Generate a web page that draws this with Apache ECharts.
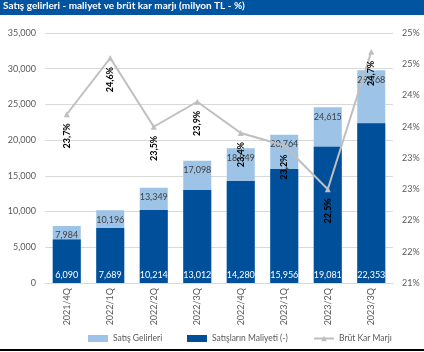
<!DOCTYPE html>
<html>
<head>
<meta charset="utf-8">
<script src="https://cdn.jsdelivr.net/npm/echarts@6/dist/echarts.min.js"></script>
<style>
  html, body { margin: 0; padding: 0; background: #fff; }
  #chart { width: 424px; height: 352px; }
</style>
</head>
<body>
<div id="chart"></div>
<script>
// Quarterly sales, cost of sales and gross margin
const quarters = ['2021/4Q', '2022/1Q', '2022/2Q', '2022/3Q', '2022/4Q', '2023/1Q', '2023/2Q', '2023/3Q'];
const salesRevenue = [7984, 10196, 13349, 17098, 18849, 20764, 24615, 29768];
const costOfSales = [6090, 7689, 10214, 13012, 14280, 15956, 19081, 22353];
const grossMargin = [23.7, 24.6, 23.5, 23.9, 23.4, 23.2, 22.5, 24.7];

const FONT = 'Lato';
const fmtThousands = v => v.toLocaleString('en-US');
const fmtPct = v => v.toFixed(1).replace('.', ',') + '%';

const legendText = { fontFamily: FONT, fontSize: 8.5, color: '#595959' };
const legendItem = (name, left, icon) => ({
  top: 329, left: left, itemWidth: 20, itemHeight: 7, itemGap: 0,
  textStyle: legendText,
  data: [icon ? { name: name, icon: icon } : { name: name }]
});

const chart = echarts.init(document.getElementById('chart'), null, { renderer: 'canvas' });

chart.setOption({
  animation: false,
  backgroundColor: '#ffffff',
  textStyle: { fontFamily: FONT },
  graphic: [
    { type: 'rect', left: 0, top: 0, shape: { width: 424, height: 15 }, style: { fill: '#0054A0' }, z: 10 },
    { type: 'text', left: 3, top: 1, style: { text: 'Satış gelirleri - maliyet ve brüt kar marjı (milyon TL - %)', fill: '#ffffff', font: 'bold 10px ' + FONT }, z: 11 },
    { type: 'rect', left: 0, top: 349, shape: { width: 424, height: 2 }, style: { fill: '#000000' }, z: 10 }
  ],
  grid: { left: 45, right: 31, top: 33, bottom: 69 },
  legend: [
    legendItem('Satış Gelirleri', 83, 'rect'),
    legendItem('Satışların Maliyeti (-)', 182, 'rect'),
    legendItem('Brüt Kar Marjı', 308)
  ],
  xAxis: {
    type: 'category',
    data: quarters,
    axisTick: { show: false },
    axisLine: { lineStyle: { color: '#D9D9D9' } },
    axisLabel: { rotate: 90, fontSize: 9, color: '#595959', fontFamily: FONT, margin: 5 }
  },
  yAxis: [
    {
      type: 'value', min: 0, max: 35000, interval: 5000,
      axisLine: { show: false }, axisTick: { show: false },
      splitLine: { lineStyle: { color: '#D9D9D9' } },
      axisLabel: { fontSize: 9, color: '#595959', fontFamily: FONT, margin: 9, formatter: fmtThousands }
    },
    {
      type: 'value', min: 21, max: 25, interval: 0.5,
      axisLine: { show: false }, axisTick: { show: false },
      splitLine: { show: false },
      axisLabel: { fontSize: 9, color: '#595959', fontFamily: FONT, margin: 9, formatter: v => Math.round(v) + '%' }
    }
  ],
  series: [
    {
      name: 'Satış Gelirleri',
      type: 'bar',
      data: salesRevenue,
      barWidth: 28,
      barGap: '-100%',
      itemStyle: { color: '#9DC3E6' },
      label: { show: true, position: 'insideTop', distance: 5, fontSize: 9, color: '#404040', fontFamily: FONT, formatter: p => fmtThousands(p.value) }
    },
    {
      name: 'Satışların Maliyeti (-)',
      type: 'bar',
      data: costOfSales,
      barWidth: 28,
      barGap: '-100%',
      itemStyle: { color: '#004F9A' },
      label: { show: true, position: 'insideBottom', distance: 3, fontSize: 9, color: '#ffffff', fontFamily: FONT, formatter: p => fmtThousands(p.value) }
    },
    {
      name: 'Brüt Kar Marjı',
      type: 'line',
      yAxisIndex: 1,
      data: grossMargin,
      symbol: 'triangle',
      symbolSize: 6,
      z: 5,
      lineStyle: { color: '#BFBFBF', width: 2 },
      itemStyle: { color: '#BFBFBF' },
      label: {
        show: true, position: 'bottom', distance: 6, rotate: 90,
        align: 'right', verticalAlign: 'middle',
        fontSize: 9, fontWeight: 'bold', color: '#000000', fontFamily: FONT,
        formatter: p => fmtPct(p.value)
      }
    }
  ]
});
</script>
</body>
</html>
